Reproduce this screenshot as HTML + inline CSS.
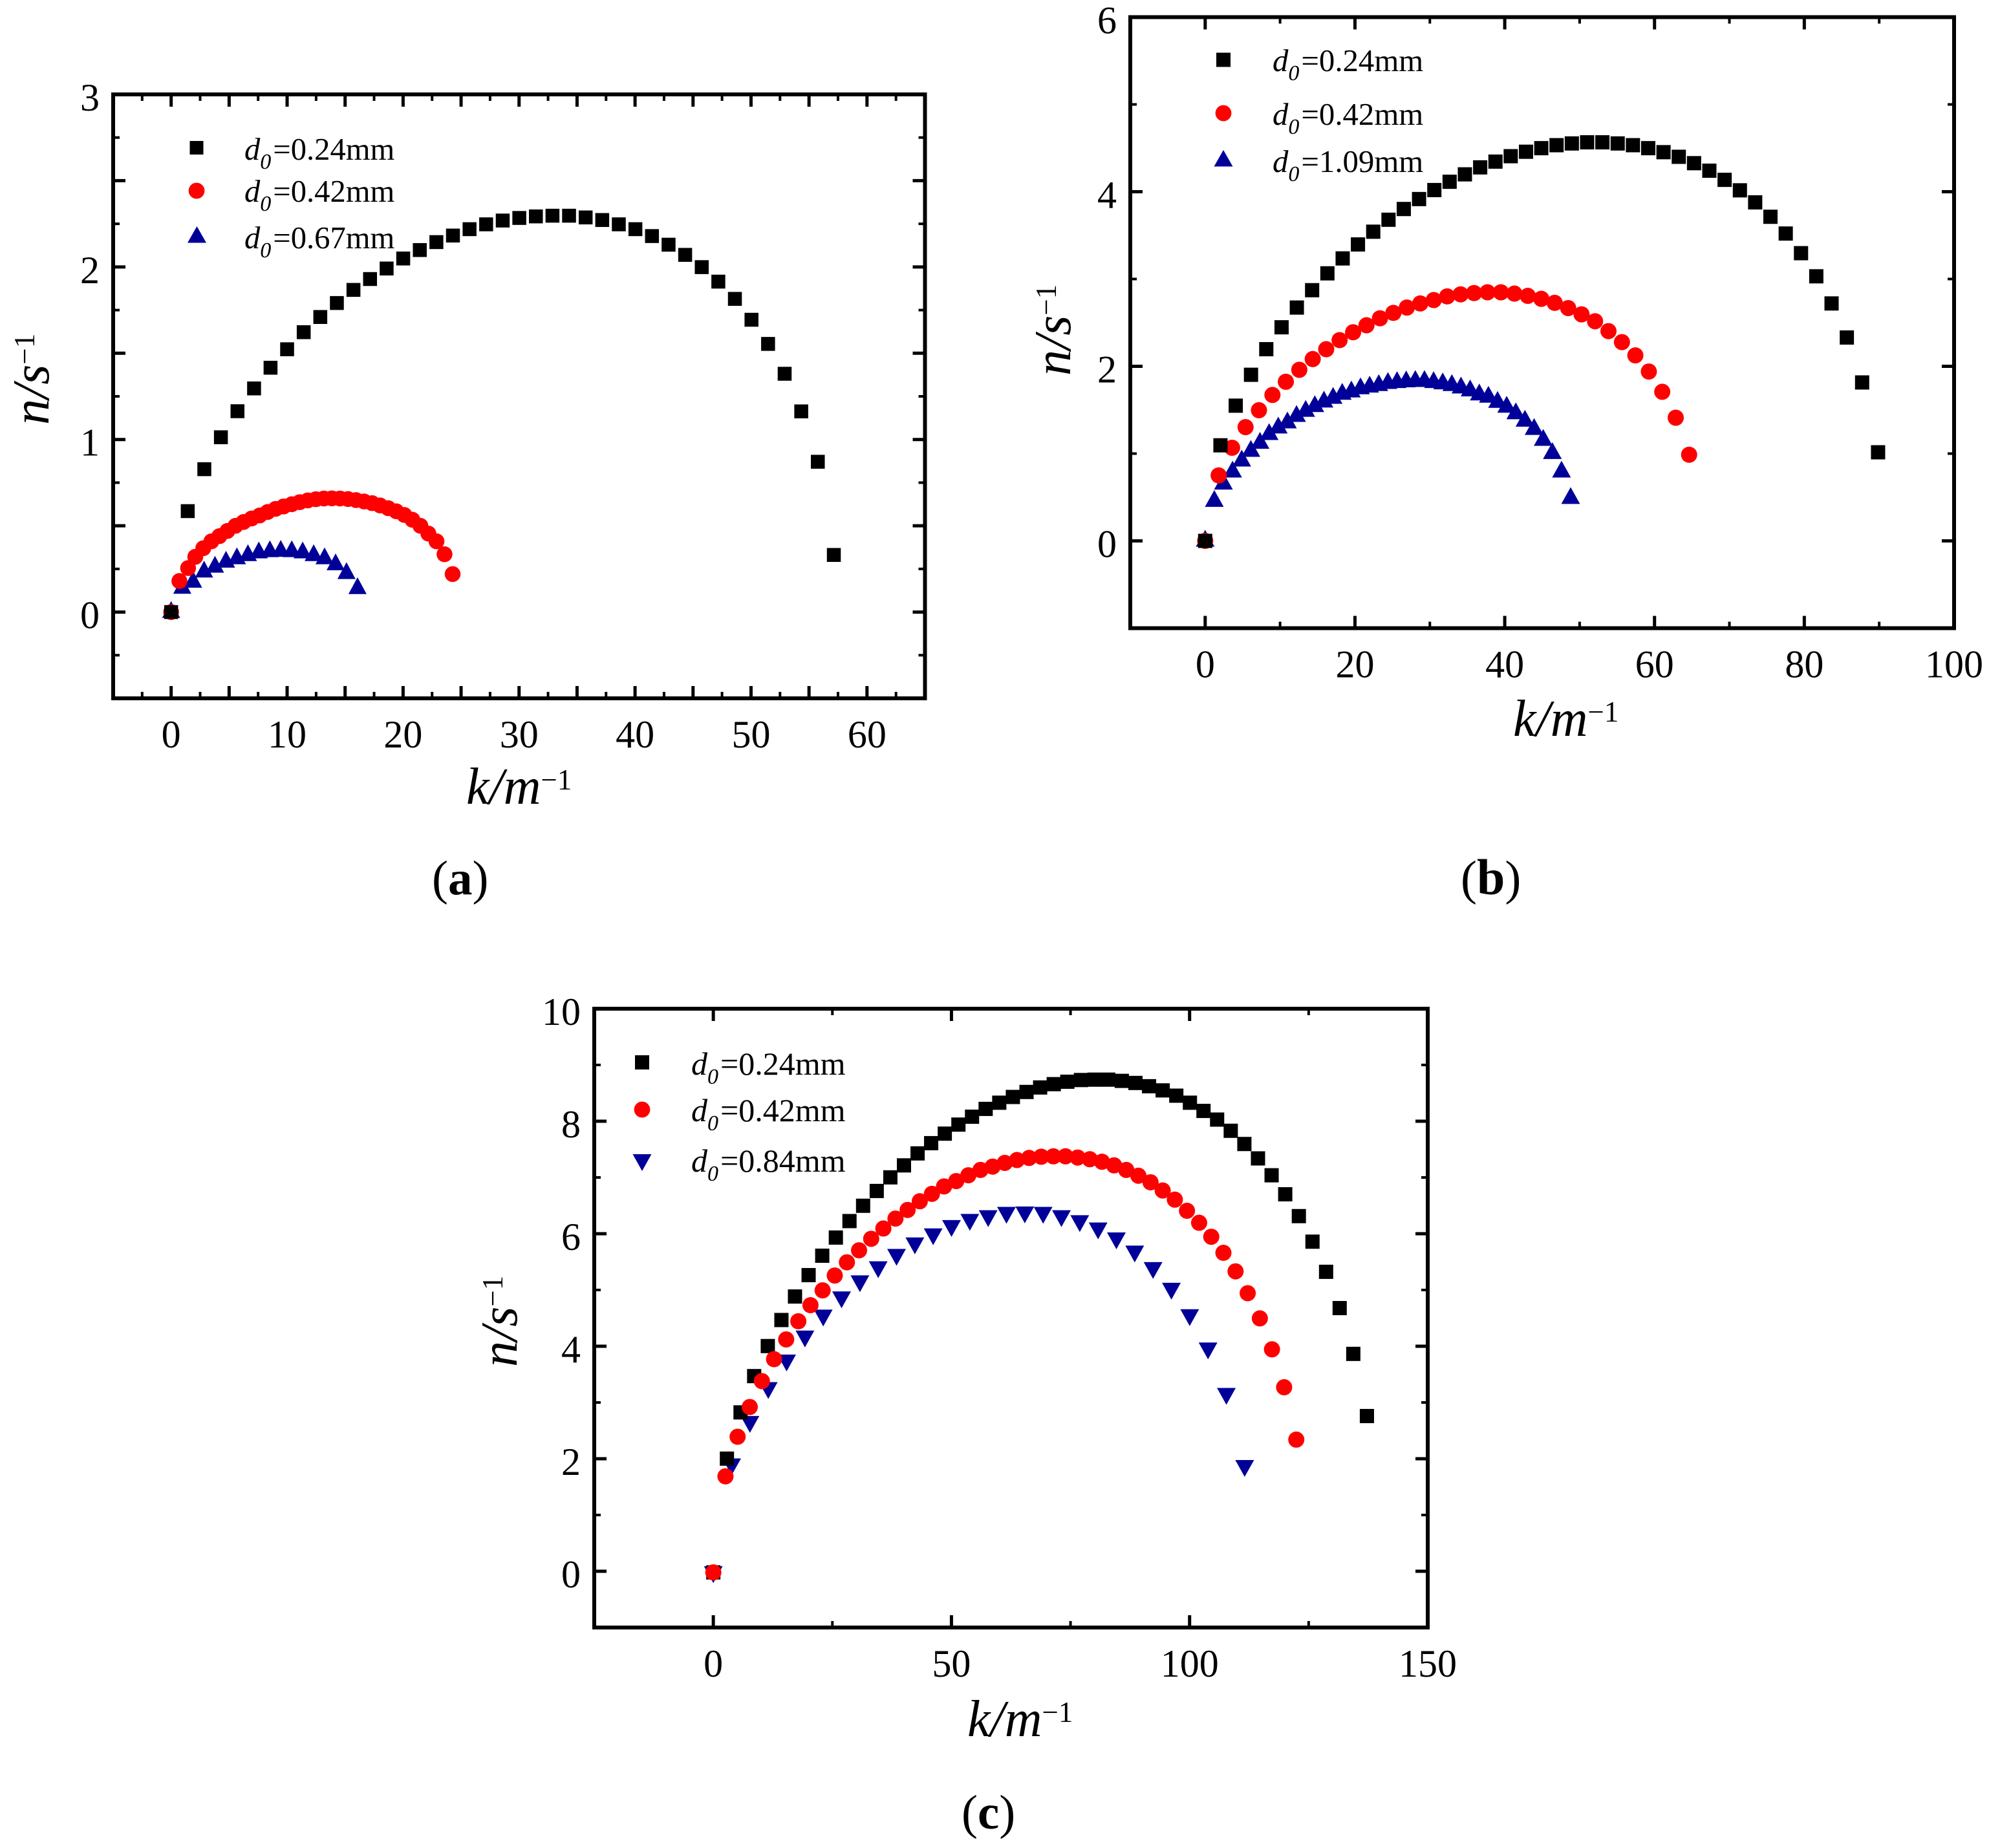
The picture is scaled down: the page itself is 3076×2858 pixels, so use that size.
<!DOCTYPE html>
<html lang="en">
<head>
<meta charset="utf-8">
<title>n versus k for nozzle diameters</title>
<style>
html,body{margin:0;padding:0;background:#fff;}
svg{display:block;}
text{font-family:"Liberation Serif",serif;fill:#000;}
.legend-text-a{font-size:48.6px;}
.legend-text-b{font-size:48.8px;}
.legend-text-c{font-size:50px;}
.axis-title{font-size:80px;font-style:italic;}
.panel-label{font-size:75px;}
</style>
</head>
<body>
<svg id="chart" xmlns="http://www.w3.org/2000/svg" width="3076" height="2858" viewBox="0 0 3076 2858">
<rect x="0" y="0" width="3076" height="2858" fill="#fff"/>

<g id="panel-a">
  <text class="axis-title" x="721" y="1243">k/m<tspan font-size="45" font-style="normal" dy="-22">−1</tspan></text>
  <text class="axis-title" transform="translate(75 657) rotate(-90)">n/s<tspan font-size="45" font-style="normal" dy="-22">−1</tspan></text>
  <g>
    <rect x="293.5" y="218" width="21" height="21" fill="#000"/>
    <circle cx="304" cy="295" r="12.4" fill="#f00"/>
    <polygon points="304.5,350 290,375.5 319,375.5" fill="#009"/>
    <text class="legend-text-a" x="378" y="247"><tspan font-style="italic">d</tspan><tspan font-style="italic" font-size="34" dy="14">0</tspan><tspan dy="-14" dx="3">=0.24mm</tspan></text>
    <text class="legend-text-a" x="378" y="312"><tspan font-style="italic">d</tspan><tspan font-style="italic" font-size="34" dy="14">0</tspan><tspan dy="-14" dx="3">=0.42mm</tspan></text>
    <text class="legend-text-a" x="378" y="384"><tspan font-style="italic">d</tspan><tspan font-style="italic" font-size="34" dy="14">0</tspan><tspan dy="-14" dx="3">=0.67mm</tspan></text>
  </g>
  <text class="panel-label" x="668" y="1383">(<tspan font-weight="bold">a</tspan>)</text>
</g>

<g id="panel-b">
  <text class="axis-title" x="2340" y="1138">k/m<tspan font-size="45" font-style="normal" dy="-22">−1</tspan></text>
  <text class="axis-title" transform="translate(1655 581) rotate(-90)">n/s<tspan font-size="45" font-style="normal" dy="-22">−1</tspan></text>
  <g>
    <rect x="1881" y="81.5" width="22" height="22" fill="#000"/>
    <circle cx="1892" cy="175" r="12.4" fill="#f00"/>
    <polygon points="1892,232 1877.5,257.5 1906.5,257.5" fill="#009"/>
    <text class="legend-text-b" x="1968" y="110"><tspan font-style="italic">d</tspan><tspan font-style="italic" font-size="34" dy="14">0</tspan><tspan dy="-14" dx="3">=0.24mm</tspan></text>
    <text class="legend-text-b" x="1968" y="193"><tspan font-style="italic">d</tspan><tspan font-style="italic" font-size="34" dy="14">0</tspan><tspan dy="-14" dx="3">=0.42mm</tspan></text>
    <text class="legend-text-b" x="1968" y="266"><tspan font-style="italic">d</tspan><tspan font-style="italic" font-size="34" dy="14">0</tspan><tspan dy="-14" dx="3">=1.09mm</tspan></text>
  </g>
  <text class="panel-label" x="2259" y="1383">(<tspan font-weight="bold" font-size="78">b</tspan>)</text>
</g>

<g id="panel-c">
  <text class="axis-title" x="1496" y="2685">k/m<tspan font-size="45" font-style="normal" dy="-22">−1</tspan></text>
  <text class="axis-title" transform="translate(799 2114) rotate(-90)">n/s<tspan font-size="45" font-style="normal" dy="-22">−1</tspan></text>
  <g>
    <rect x="982" y="1632" width="22" height="22" fill="#000"/>
    <circle cx="993" cy="1716" r="12.4" fill="#f00"/>
    <polygon points="978.5,1785 1007.5,1785 993,1811" fill="#009"/>
    <text class="legend-text-c" x="1069" y="1662"><tspan font-style="italic">d</tspan><tspan font-style="italic" font-size="34" dy="14">0</tspan><tspan dy="-14" dx="3">=0.24mm</tspan></text>
    <text class="legend-text-c" x="1069" y="1734"><tspan font-style="italic">d</tspan><tspan font-style="italic" font-size="34" dy="14">0</tspan><tspan dy="-14" dx="3">=0.42mm</tspan></text>
    <text class="legend-text-c" x="1069" y="1812"><tspan font-style="italic">d</tspan><tspan font-style="italic" font-size="34" dy="14">0</tspan><tspan dy="-14" dx="3">=0.84mm</tspan></text>
  </g>
  <text class="panel-label" x="1487" y="2828">(<tspan font-weight="bold">c</tspan>)</text>
</g>
</svg>

<script>
// Panel (a)
const aBlackK = [0,1.43,2.86,4.29,5.72,7.15,8.57,10,11.43,12.86,14.29,15.72,17.15,18.58,20.01,21.44,22.87,24.3,25.73,27.16,28.59,30.02,31.45,32.88,34.31,35.74,37.17,38.6,40.03,41.46,42.89,44.32,45.75,47.18,48.61,50.04,51.47,52.9,54.33,55.76,57.14];
const aBlackN = [0,0.585,0.828,1.013,1.164,1.296,1.416,1.523,1.622,1.71,1.791,1.867,1.93,1.991,2.049,2.098,2.144,2.182,2.219,2.247,2.269,2.284,2.293,2.297,2.297,2.287,2.272,2.247,2.219,2.179,2.129,2.07,1.999,1.915,1.815,1.694,1.554,1.381,1.163,0.871,0.331];
const aRedK = [0,0.71,1.46,2.08,2.77,3.47,4.16,4.85,5.55,6.24,6.93,7.63,8.32,9.01,9.7,10.4,11.09,11.78,12.48,13.17,13.86,14.56,15.25,15.94,16.64,17.33,18.02,18.72,19.41,20.1,20.8,21.49,22.18,22.88,23.57,24.27];
const aRedN = [0,0.18,0.255,0.32,0.37,0.41,0.44,0.47,0.5,0.522,0.542,0.56,0.58,0.598,0.612,0.625,0.637,0.647,0.654,0.658,0.659,0.658,0.655,0.649,0.641,0.631,0.618,0.602,0.584,0.563,0.535,0.5,0.455,0.41,0.335,0.22];
const aBlueK = [0,0.96,1.89,2.84,3.78,4.73,5.67,6.62,7.56,8.51,9.45,10.4,11.34,12.29,13.23,14.18,15.12,16.07];
const aBlueN = [0.015,0.155,0.19,0.249,0.277,0.306,0.326,0.344,0.36,0.367,0.369,0.367,0.36,0.344,0.326,0.291,0.24,0.153];
const aXLabels = ["0","10","20","30","40","50","60"];
const aXLabelValues = [0,10,20,30,40,50,60];
const aYLabels = ["0","1","2","3"];
const aYLabelValues = [0,1,2,3];

// Panel (b)
const bBlackK = [0,2.04,4.08,6.12,8.16,10.2,12.24,14.28,16.32,18.36,20.4,22.44,24.48,26.52,28.56,30.6,32.64,34.68,36.72,38.76,40.8,42.84,44.88,46.92,48.96,51,53.04,55.08,57.12,59.16,61.2,63.24,65.28,67.32,69.36,71.4,73.44,75.48,77.52,79.56,81.6,83.64,85.68,87.72,89.85];
const bBlackN = [0,1.095,1.549,1.903,2.196,2.447,2.673,2.872,3.065,3.236,3.396,3.542,3.679,3.802,3.916,4.019,4.114,4.199,4.279,4.345,4.407,4.458,4.499,4.533,4.553,4.566,4.566,4.553,4.533,4.499,4.453,4.4,4.327,4.241,4.136,4.016,3.878,3.713,3.521,3.296,3.031,2.72,2.33,1.815,1.015];
const bRedK = [0,1.8,3.59,5.39,7.18,8.98,10.77,12.57,14.36,16.16,17.95,19.75,21.54,23.34,25.13,26.93,28.72,30.52,32.31,34.11,35.9,37.7,39.49,41.29,43.08,44.88,46.67,48.47,50.26,52.06,53.85,55.65,57.44,59.24,61.03,62.83,64.62];
const bRedN = [0,0.75,1.067,1.303,1.497,1.672,1.823,1.96,2.083,2.196,2.3,2.39,2.47,2.55,2.612,2.673,2.72,2.759,2.801,2.824,2.839,2.848,2.848,2.833,2.807,2.773,2.727,2.667,2.595,2.516,2.403,2.277,2.125,1.94,1.708,1.411,0.987];
const bBlueK = [0,1.22,2.44,3.66,4.88,6.1,7.32,8.54,9.76,10.98,12.2,13.42,14.64,15.86,17.08,18.3,19.52,20.74,21.96,23.18,24.4,25.62,26.84,28.06,29.28,30.5,31.72,32.94,34.16,35.38,36.6,37.82,39.04,40.26,41.48,42.7,43.92,45.14,46.36,47.58,48.8];
const bBlueN = [0.03,0.486,0.684,0.822,0.948,1.059,1.152,1.252,1.327,1.385,1.459,1.518,1.572,1.624,1.667,1.713,1.74,1.776,1.795,1.813,1.837,1.847,1.856,1.86,1.86,1.847,1.832,1.813,1.785,1.752,1.706,1.68,1.62,1.565,1.49,1.405,1.31,1.185,1.034,0.822,0.519];
const bXLabels = ["0","20","40","60","80","100"];
const bXLabelValues = [0,20,40,60,80,100];
const bYLabels = ["0","2","4","6"];
const bYLabelValues = [0,2,4,6];

// Panel (c)
const cBlackK = [0,2.86,5.72,8.58,11.44,14.3,17.15,20.01,22.87,25.73,28.59,31.45,34.31,37.17,40.03,42.89,45.74,48.6,51.46,54.32,57.18,60.04,62.9,65.76,68.62,71.48,74.33,77.19,80.05,82.91,85.77,88.63,91.49,94.35,97.21,100.07,102.92,105.78,108.64,111.5,114.36,117.22,120.08,122.94,125.8,128.66,131.51,134.37,137.23];
const cBlackN = [-0.02,2.002,2.824,3.469,4.003,4.466,4.884,5.264,5.609,5.932,6.225,6.497,6.76,7.002,7.215,7.428,7.61,7.779,7.94,8.08,8.219,8.329,8.431,8.52,8.6,8.659,8.702,8.732,8.739,8.739,8.717,8.68,8.622,8.548,8.454,8.329,8.183,8.029,7.83,7.595,7.339,7.039,6.701,6.313,5.859,5.323,4.678,3.864,2.759];
const cRedK = [0,2.55,5.1,7.65,10.2,12.75,15.3,17.85,20.4,22.95,25.5,28.05,30.6,33.15,35.7,38.25,40.8,43.35,45.9,48.45,51,53.55,56.1,58.65,61.2,63.75,66.3,68.85,71.4,73.95,76.5,79.05,81.6,84.15,86.7,89.25,91.8,94.35,96.9,99.45,102,104.55,107.1,109.65,112.2,114.75,117.3,119.85,122.4];
const cRedN = [-0.02,1.687,2.391,2.92,3.38,3.77,4.121,4.444,4.73,4.993,5.257,5.492,5.705,5.91,6.093,6.269,6.423,6.577,6.709,6.841,6.936,7.039,7.134,7.193,7.259,7.31,7.347,7.369,7.376,7.376,7.354,7.324,7.28,7.215,7.134,7.031,6.914,6.768,6.606,6.408,6.195,5.946,5.661,5.331,4.943,4.495,3.945,3.271,2.34];
const cBlueK = [0,3.85,7.69,11.54,15.39,19.24,23.08,26.93,30.78,34.62,38.47,42.32,46.16,50.01,53.86,57.71,61.55,65.4,69.25,73.09,76.94,80.79,84.63,88.48,92.33,96.18,100.02,103.87,107.72,111.56];
const cBlueN = [-0.06,1.856,2.611,3.213,3.703,4.129,4.502,4.825,5.11,5.36,5.58,5.785,5.946,6.093,6.203,6.269,6.328,6.335,6.328,6.269,6.18,6.05,5.873,5.639,5.346,4.979,4.509,3.916,3.109,1.828];
const cXLabels = ["0","50","100","150"];
const cXLabelValues = [0,50,100,150];
const cYLabels = ["0","2","4","6","8","10"];
const cYLabelValues = [0,2,4,6,8,10];

const NS = "http://www.w3.org/2000/svg";
const BLACK = "#000", RED = "#f00", BLUE = "#009";

function mk(tag, attrs, parent) {
  const el = document.createElementNS(NS, tag);
  for (const key in attrs) el.setAttribute(key, attrs[key]);
  parent.appendChild(el);
  return el;
}

function ticksBetween(min, max, step) {
  const out = [];
  const n = Math.round((max - min) / step);
  for (let i = 0; i <= n; i++) out.push(min + i * step);
  return out;
}

function drawAxes(group, cfg, xs, ys) {
  const [left, right] = [xs(cfg.xDomain[0]), xs(cfg.xDomain[1])];
  const [bottom, top] = [ys(cfg.yDomain[0]), ys(cfg.yDomain[1])];
  const axes = mk("g", {}, group);
  
  

  function tick(x1, y1, x2, y2, major) {
    const t = mk("line", {x1: x1, y1: y1, x2: x2, y2: y2, stroke: "#000", "stroke-width": major ? 5 : 4}, axes);
    
    
  }
  const isMajor = (v, step) => Math.abs(v / step - Math.round(v / step)) < 1e-6;

  ticksBetween(cfg.xDomain[0], cfg.xDomain[1], cfg.xMinor).forEach(v => {
    if (v === cfg.xDomain[0] || v === cfg.xDomain[1]) return;
    const major = isMajor(v, cfg.xMajor), len = major ? 19 : 10, px = xs(v);
    tick(px, bottom, px, bottom - len, major);
    tick(px, top, px, top + len, major);
  });
  ticksBetween(cfg.yDomain[0], cfg.yDomain[1], cfg.yMinor).forEach(v => {
    if (v === cfg.yDomain[0] || v === cfg.yDomain[1]) return;
    const major = isMajor(v, cfg.yMajor), len = major ? 19 : 10, py = ys(v);
    tick(left, py, left + len, py, major);
    tick(right, py, right - len, py, major);
  });

  const frame = mk("rect", {x: left, y: top, width: right - left, height: bottom - top, fill: "none", stroke: "#000", "stroke-width": 6}, axes);
  
  

  cfg.xLabelValues.forEach((v, i) => {
    const t = mk("text", {x: xs(v), y: bottom + 76, "text-anchor": "middle", "font-size": 60}, axes);
    t.textContent = cfg.xLabels[i];
    
    
  });
  cfg.yLabelValues.forEach((v, i) => {
    const t = mk("text", {x: left - 21, y: ys(v) + 25, "text-anchor": "end", "font-size": 60}, axes);
    t.textContent = cfg.yLabels[i];
    
    
  });
}

function drawSeries(group, name, shape, color, size, k, n, xs, ys) {
  const g = mk("g", {fill: color}, group);
  
  
  k.forEach((kv, i) => {
    const x = xs(kv), y = ys(n[i]);
    let m;
    if (shape === "square") {
      m = mk("rect", {x: x - size / 2, y: y - size / 2, width: size, height: size}, g);
    } else if (shape === "circle") {
      m = mk("circle", {cx: x, cy: y, r: size / 2}, g);
    } else if (shape === "up") {
      m = mk("polygon", {points: [x, y - 13, x - size / 2, y + 13, x + size / 2, y + 13].join(" ")}, g);
    } else {
      m = mk("polygon", {points: [x - size / 2, y - 13, x + size / 2, y - 13, x, y + 13].join(" ")}, g);
    }
    
    
  });
}

function scale(domain, range) {
  return v => range[0] + (v - domain[0]) * (range[1] - range[0]) / (domain[1] - domain[0]);
}

// Panel (a)
(function () {
  const cfg = {xDomain: [-5, 65], yDomain: [-0.5, 3], xMajor: 5, xMinor: 2.5, yMajor: 0.5, yMinor: 0.25,
    xLabels: aXLabels, xLabelValues: aXLabelValues, yLabels: aYLabels, yLabelValues: aYLabelValues};
  const xs = scale(cfg.xDomain, [175, 1430.5]), ys = scale(cfg.yDomain, [1080, 146]);
  const g = document.getElementById("panel-a");
  drawAxes(g, cfg, xs, ys);
  drawSeries(g, "series-d0-0.67mm", "up", BLUE, 28, aBlueK, aBlueN, xs, ys);
  drawSeries(g, "series-d0-0.42mm", "circle", RED, 24.5, aRedK, aRedN, xs, ys);
  drawSeries(g, "series-d0-0.24mm", "square", BLACK, 21.5, aBlackK, aBlackN, xs, ys);
})();

// Panel (b)
(function () {
  const cfg = {xDomain: [-10, 100], yDomain: [-1, 6], xMajor: 20, xMinor: 10, yMajor: 2, yMinor: 1,
    xLabels: bXLabels, xLabelValues: bXLabelValues, yLabels: bYLabels, yLabelValues: bYLabelValues};
  const xs = scale(cfg.xDomain, [1748, 3022]), ys = scale(cfg.yDomain, [971.5, 26.5]);
  const g = document.getElementById("panel-b");
  drawAxes(g, cfg, xs, ys);
  drawSeries(g, "series-d0-1.09mm", "up", BLUE, 29, bBlueK, bBlueN, xs, ys);
  drawSeries(g, "series-d0-0.42mm", "circle", RED, 25, bRedK, bRedN, xs, ys);
  drawSeries(g, "series-d0-0.24mm", "square", BLACK, 22, bBlackK, bBlackN, xs, ys);
})();

// Panel (c)
(function () {
  const cfg = {xDomain: [-25, 150], yDomain: [-1, 10], xMajor: 50, xMinor: 25, yMajor: 2, yMinor: 1,
    xLabels: cXLabels, xLabelValues: cXLabelValues, yLabels: cYLabels, yLabelValues: cYLabelValues};
  const xs = scale(cfg.xDomain, [919, 2208]), ys = scale(cfg.yDomain, [2517, 1560]);
  const g = document.getElementById("panel-c");
  drawAxes(g, cfg, xs, ys);
  drawSeries(g, "series-d0-0.84mm", "down", BLUE, 29, cBlueK, cBlueN, xs, ys);
  drawSeries(g, "series-d0-0.24mm", "square", BLACK, 22, cBlackK, cBlackN, xs, ys);
  drawSeries(g, "series-d0-0.42mm", "circle", RED, 25, cRedK, cRedN, xs, ys);
})();
</script>
</body>
</html>
